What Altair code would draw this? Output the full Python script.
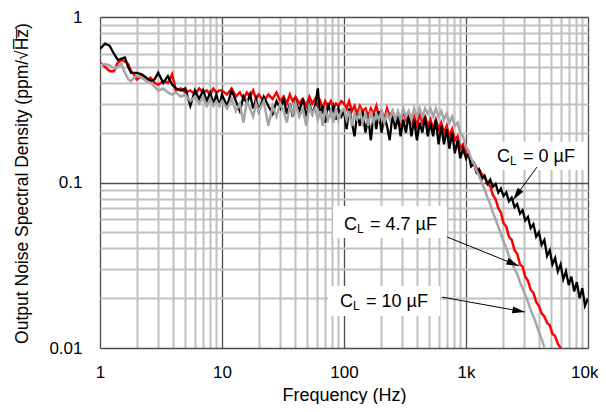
import altair as alt
import pandas as pd

# ---------------- data ----------------
FREQ_D1 = [1.0, 1.1, 1.2, 1.3, 1.4, 1.5, 1.6, 1.7, 1.8, 1.9, 2.0, 2.2, 2.4, 2.6, 2.8,
           3.0, 3.3, 3.6, 3.9, 4.2, 4.6, 5.0, 5.5, 6.0, 6.5, 7.0, 7.5, 8.0, 8.5, 9.0, 9.5]
FREQ_D2 = [10, 11, 12, 13, 14, 15, 16, 17, 18, 19, 20, 22, 24, 26, 28, 30, 32, 34, 36, 38,
           40, 43, 46, 49, 52, 55, 58, 61, 64, 67, 70, 74, 78, 82, 86, 90, 95]
FREQ_D3 = [100, 105, 110, 116, 122, 128, 135, 142, 150, 158, 166, 175, 184, 193, 203,
           214, 225, 237, 250, 263, 277, 291, 306, 322, 339, 357, 376, 396, 417, 439,
           462, 486, 511, 538, 566, 596, 627, 660, 695, 731, 770, 810, 853, 898, 945]
FREQ_D4 = [1000, 1050, 1100, 1160, 1220, 1280, 1350, 1420, 1500, 1580, 1660, 1750, 1840,
           1930, 2030, 2140, 2250, 2370, 2500, 2630, 2770, 2910, 3060, 3220, 3390, 3570,
           3760, 3960, 4170, 4390, 4620, 4860, 5110, 5380, 5660, 5960, 6270, 6600, 6950,
           7310, 7700, 8100, 8530, 8980, 9450, 10000]

BLACK_D1 = [0.64, 0.69, 0.67, 0.60, 0.55, 0.56, 0.57, 0.50, 0.46, 0.46, 0.46, 0.45, 0.43,
            0.41, 0.42, 0.46, 0.40, 0.44, 0.39, 0.37, 0.36, 0.37, 0.29, 0.36, 0.32, 0.36,
            0.31, 0.35, 0.30, 0.34, 0.29]
BLACK_D2 = [0.34, 0.29, 0.36, 0.31, 0.27, 0.33, 0.30, 0.34, 0.28, 0.32, 0.27, 0.33, 0.29,
            0.26, 0.31, 0.28, 0.32, 0.26, 0.30, 0.25, 0.31, 0.27, 0.32, 0.25, 0.30, 0.26,
            0.29, 0.37, 0.25, 0.29, 0.23, 0.30, 0.26, 0.29, 0.24, 0.28, 0.25]
BLACK_D3 = [0.27, 0.21, 0.28, 0.23, 0.19, 0.26, 0.22, 0.27, 0.20, 0.25, 0.18, 0.26, 0.21,
            0.27, 0.20, 0.25, 0.22, 0.18, 0.26, 0.21, 0.25, 0.19, 0.24, 0.20, 0.26, 0.19,
            0.24, 0.18, 0.23, 0.20, 0.25, 0.19, 0.23, 0.19, 0.24, 0.17, 0.22, 0.17, 0.21,
            0.16, 0.20, 0.15, 0.18, 0.14, 0.16]
BLACK_D4 = [0.14, 0.15, 0.125, 0.13, 0.115, 0.12, 0.105, 0.11, 0.098, 0.104, 0.094, 0.098,
            0.087, 0.092, 0.083, 0.087, 0.077, 0.081, 0.071, 0.074, 0.065, 0.068, 0.059,
            0.062, 0.053, 0.056, 0.047, 0.050, 0.042, 0.045, 0.036, 0.039, 0.032, 0.035,
            0.029, 0.032, 0.026, 0.029, 0.024, 0.027, 0.022, 0.025, 0.020, 0.023, 0.018,
            0.020]

RED_D1 = [0.53, 0.50, 0.47, 0.47, 0.53, 0.55, 0.54, 0.52, 0.47, 0.45, 0.42, 0.44, 0.41,
          0.43, 0.40, 0.39, 0.41, 0.40, 0.45, 0.36, 0.37, 0.35, 0.36, 0.34, 0.37, 0.35,
          0.36, 0.34, 0.37, 0.35, 0.36]
RED_D2 = [0.36, 0.34, 0.37, 0.33, 0.35, 0.32, 0.35, 0.33, 0.36, 0.32, 0.34, 0.31, 0.34,
          0.32, 0.35, 0.31, 0.33, 0.30, 0.34, 0.31, 0.33, 0.30, 0.32, 0.29, 0.33, 0.30,
          0.32, 0.29, 0.31, 0.28, 0.31, 0.29, 0.31, 0.28, 0.30, 0.29, 0.31]
RED_D3 = [0.30, 0.28, 0.31, 0.27, 0.29, 0.26, 0.29, 0.27, 0.28, 0.25, 0.28, 0.26, 0.29,
          0.25, 0.27, 0.24, 0.28, 0.25, 0.27, 0.24, 0.26, 0.23, 0.27, 0.24, 0.26, 0.23,
          0.25, 0.22, 0.26, 0.23, 0.25, 0.22, 0.24, 0.21, 0.24, 0.21, 0.23, 0.20, 0.22,
          0.19, 0.21, 0.18, 0.19, 0.16, 0.17]
RED_D4 = [0.15, 0.145, 0.135, 0.132, 0.122, 0.12, 0.112, 0.108, 0.098, 0.095, 0.084,
          0.079, 0.070, 0.066, 0.057, 0.054, 0.047, 0.045, 0.039, 0.037, 0.032, 0.031,
          0.027, 0.0255, 0.0225, 0.0215, 0.019, 0.018, 0.0162, 0.0155, 0.0142, 0.0137,
          0.0122, 0.0118, 0.0106, 0.0100]

GRAY_D1 = [0.51, 0.52, 0.51, 0.49, 0.50, 0.52, 0.46, 0.42, 0.41, 0.43, 0.44, 0.43, 0.41,
           0.40, 0.38, 0.36, 0.37, 0.35, 0.34, 0.35, 0.33, 0.34, 0.31, 0.33, 0.30, 0.33,
           0.29, 0.32, 0.29, 0.31, 0.29]
GRAY_D2 = [0.31, 0.28, 0.32, 0.27, 0.30, 0.23, 0.31, 0.28, 0.25, 0.30, 0.27, 0.31, 0.22,
           0.29, 0.25, 0.30, 0.27, 0.23, 0.29, 0.26, 0.30, 0.25, 0.28, 0.22, 0.29, 0.26,
           0.28, 0.24, 0.27, 0.22, 0.28, 0.24, 0.27, 0.23, 0.28, 0.24, 0.27]
GRAY_D3 = [0.28, 0.24, 0.27, 0.22, 0.26, 0.24, 0.27, 0.23, 0.26, 0.22, 0.27, 0.23, 0.26,
           0.24, 0.27, 0.23, 0.26, 0.24, 0.27, 0.24, 0.27, 0.24, 0.28, 0.25, 0.27, 0.24,
           0.28, 0.25, 0.28, 0.25, 0.28, 0.26, 0.28, 0.25, 0.28, 0.25, 0.27, 0.24, 0.26,
           0.23, 0.25, 0.22, 0.23, 0.20, 0.19]
GRAY_D4 = [0.165, 0.155, 0.14, 0.13, 0.118, 0.11, 0.10, 0.091, 0.081, 0.074, 0.066, 0.060,
           0.054, 0.049, 0.044, 0.040, 0.036, 0.033, 0.030, 0.028, 0.025, 0.023, 0.021,
           0.019, 0.017, 0.0155, 0.014, 0.0125, 0.0113, 0.0101]

FREQ = FREQ_D1 + FREQ_D2 + FREQ_D3 + FREQ_D4
BLACK = BLACK_D1 + BLACK_D2 + BLACK_D3 + BLACK_D4
RED = RED_D1 + RED_D2 + RED_D3 + RED_D4
GRAY = GRAY_D1 + GRAY_D2 + GRAY_D3 + GRAY_D4

X_MAJOR = [1, 10, 100, 1000, 10000]
X_LABELS = ["1", "10", "100", "1k", "10k"]
Y_MAJOR = [0.01, 0.1, 1]
Y_LABELS = ["0.01", "0.1", "1"]
MULTS = [1, 2, 3, 4, 5, 6, 7, 8, 9]

# annotations
ANN_REST = ["= 0 µF", "= 4.7 µF", "= 10 µF"]
ANN_F = [1795, 100, 92.7]
ANN_V = [0.133, 0.0516, 0.0177]
BOX_F1 = [1573, 81.3, 73.9]
BOX_F2 = [9817, 698, 612]
BOX_V1 = [0.176, 0.0721, 0.0237]
BOX_V2 = [0.119, 0.0462, 0.0156]
ARR_F1 = [3820, 698, 636]
ARR_V1 = [0.124, 0.0469, 0.0203]
ARR_F2 = [2430, 2718, 3048]
ARR_V2 = [0.0784, 0.0313, 0.0165]
ARR_ANGLE = [216, 112, 100]

# ---------------- build ----------------
FONT = "Liberation Sans"
x_grid = sorted(set([round(d * m, 6) for d in X_MAJOR[:-1] for m in MULTS] + [X_MAJOR[-1]]))
y_grid = sorted(set([round(d * m, 6) for d in Y_MAJOR[:-1] for m in MULTS] + [Y_MAJOR[-1]]))

def label_expr(vals, labs):
    e = "''"
    for v, l in reversed(list(zip(vals, labs))):
        e = f"datum.value == {v} ? '{l}' : ({e})"
    return e

def major_test(vals):
    return "indexof([" + ",".join(str(v) for v in vals) + "], datum.value) >= 0"

last_x = f"datum.value == {X_MAJOR[-1]}"

x_scale = alt.Scale(type="log", domain=[X_MAJOR[0], X_MAJOR[-1]], nice=False)
y_scale = alt.Scale(type="log", domain=[Y_MAJOR[0], Y_MAJOR[-1]], nice=False)

x_axis = alt.Axis(
    values=x_grid, labelExpr=label_expr(X_MAJOR, X_LABELS), grid=True,
    gridColor={"condition": {"test": major_test(X_MAJOR), "value": "#4d4d4d"}, "value": "#c0c0c0"},
    gridWidth={"condition": {"test": major_test(X_MAJOR), "value": 1.3}, "value": 2},
    labelAlign={"condition": {"test": last_x, "value": "right"}, "value": "center"},
    labelOffset={"condition": {"test": last_x, "value": 10}, "value": 0},
    ticks=False, tickSize=0, domain=False, labelOverlap=False, labelFlush=False,
    labelFont=FONT, labelFontSize=17, labelColor="black", labelBaseline="alphabetic",
    labelPadding=29, title="Frequency (Hz)", titleFont=FONT, titleFontSize=18,
    titleFontWeight="normal", titleColor="black", titleBaseline="alphabetic", titleY=52,
)
y_axis = alt.Axis(
    values=y_grid, labelExpr=label_expr(Y_MAJOR, Y_LABELS), grid=True,
    gridColor={"condition": {"test": major_test(Y_MAJOR), "value": "#4d4d4d"}, "value": "#c0c0c0"},
    gridWidth={"condition": {"test": major_test(Y_MAJOR), "value": 1.3}, "value": 2},
    ticks=False, tickSize=0, domain=False, labelOverlap=False, labelFlush=False,
    labelFont=FONT, labelFontSize=17, labelColor="black", labelBaseline="middle",
    labelPadding=18, title="Output Noise Spectral Density (ppm/√H\u0305z\u0305)",
    titleFont=FONT, titleFontSize=17.5, titleFontWeight="normal", titleColor="black",
    titleBaseline="alphabetic", titleX=-73, titleY=166, titleAngle=270,
)

def series_df(vals):
    return pd.DataFrame({"f": FREQ[: len(vals)], "v": vals})

def line_layer(vals, color, width):
    return alt.Chart(series_df(vals)).mark_line(color=color, strokeWidth=width, clip=True).encode(
        x=alt.X("f:Q", scale=x_scale, axis=x_axis),
        y=alt.Y("v:Q", scale=y_scale, axis=y_axis),
    )

ann = pd.DataFrame({
    "rest": ANN_REST, "af": ANN_F, "av": ANN_V,
    "bf1": BOX_F1, "bf2": BOX_F2, "bv1": BOX_V1, "bv2": BOX_V2,
    "f1": ARR_F1, "v1": ARR_V1, "f2": ARR_F2, "v2": ARR_V2, "ang": ARR_ANGLE,
})
base = alt.Chart(ann)

boxes = base.mark_rect(color="white").encode(
    x=alt.X("bf1:Q", scale=x_scale, axis=x_axis), x2="bf2:Q",
    y=alt.Y("bv1:Q", scale=y_scale, axis=y_axis), y2="bv2:Q",
)
rules = base.mark_rule(color="black", strokeWidth=1).encode(
    x=alt.X("f1:Q", scale=x_scale), x2="f2:Q", y=alt.Y("v1:Q", scale=y_scale), y2="v2:Q",
)
heads = base.mark_point(shape="M0,0 L0.55,2 L-0.55,2 Z", filled=True, color="black",
                        opacity=1, size=160).encode(
    x=alt.X("f2:Q", scale=x_scale), y=alt.Y("v2:Q", scale=y_scale),
    angle=alt.Angle("ang:Q", scale=None),
)
txt_c = base.mark_text(text="C", align="left", baseline="alphabetic", font=FONT,
                       fontSize=18, color="black").encode(
    x=alt.X("af:Q", scale=x_scale), y=alt.Y("av:Q", scale=y_scale))
txt_l = base.mark_text(text="L", align="left", baseline="alphabetic", font=FONT,
                       fontSize=12, color="black", dx=13, dy=3).encode(
    x=alt.X("af:Q", scale=x_scale), y=alt.Y("av:Q", scale=y_scale))
txt_r = base.mark_text(align="left", baseline="alphabetic", font=FONT,
                       fontSize=18, color="black", dx=26).encode(
    x=alt.X("af:Q", scale=x_scale), y=alt.Y("av:Q", scale=y_scale), text="rest:N")

chart = alt.layer(
    boxes,
    line_layer(RED, "#ff0000", 2.5),
    line_layer(BLACK, "#000000", 2.3),
    line_layer(GRAY, "#a6a6a6", 2.5),
    rules, heads, txt_c, txt_l, txt_r,
).properties(
    width=488, height=331,
    autosize=alt.AutoSizeParams(type="none"),
    padding={"left": 92, "top": 9, "right": 10, "bottom": 56},
).configure_view(stroke="black", strokeWidth=2).configure(background="white")

chart.save("out.html", embed_options={"renderer": "svg", "actions": False})
